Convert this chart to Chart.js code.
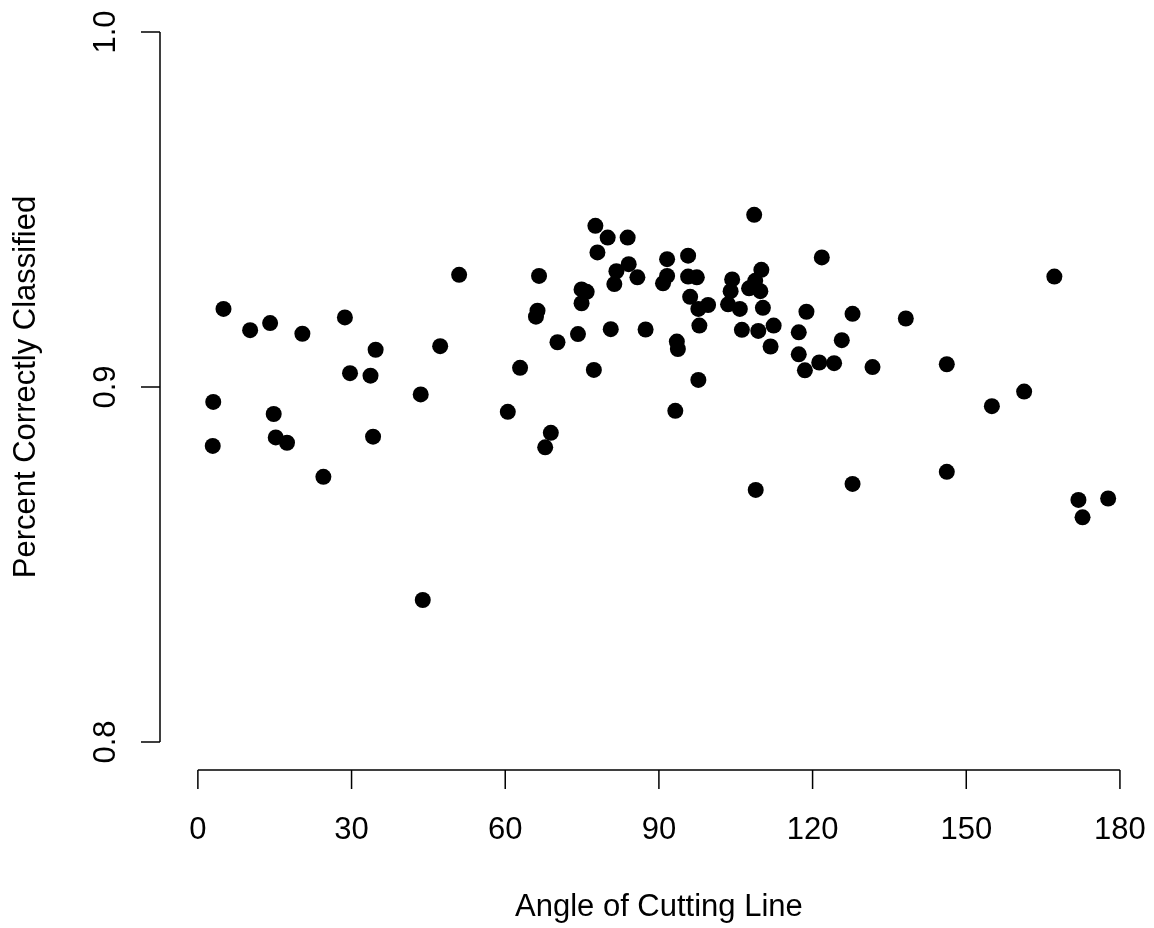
<!DOCTYPE html>
<html>
<head>
<meta charset="utf-8">
<script src="https://cdn.jsdelivr.net/npm/chart.js@4"></script>
<style>
  body { margin: 0; background: #fff; }
  canvas { display: block; }
</style>
</head>
<body>
<canvas id="chart" width="1154" height="928"></canvas>
<script>
// angle of the cutting line (x) and share correctly classified (y)
const angles = [
    3.0, 2.9, 5.0, 10.2, 14.1, 14.8, 15.2, 17.4, 20.4, 24.5, 28.7, 29.7, 33.7, 34.2, 34.7,
    43.5, 43.9, 47.3, 51.0,
    60.5, 62.9, 66.6, 66.3, 66.0, 70.2, 68.9, 67.8,
    77.6, 80.0, 83.9, 78.0, 108.6, 121.8, 91.6, 95.7, 84.1, 81.7, 85.8, 81.3, 91.6, 90.8, 95.7, 97.4,
    104.3, 110.0, 108.8, 107.6, 109.8, 104.0, 103.5, 105.8, 110.3, 99.6,
    74.9, 75.9, 74.9, 96.1, 97.7, 118.8, 127.8,
    74.2, 80.6, 87.4, 97.9, 106.2, 109.4, 112.4, 117.3, 125.7, 93.5, 93.7, 111.8, 117.3, 121.3,
    124.2, 118.5, 131.7, 77.3, 97.7, 93.2,
    108.9, 127.8, 138.2, 146.2, 146.2, 155.0, 161.3, 167.2, 171.9, 172.7, 177.7
];
const correct = [
    0.8958, 0.8834, 0.9220, 0.9160, 0.9180, 0.8924, 0.8858, 0.8843, 0.9150, 0.8747, 0.9196, 0.9039, 0.9032, 0.8860, 0.9105,
    0.8979, 0.8400, 0.9115, 0.9316,
    0.8930, 0.9054, 0.9313, 0.9215, 0.9198, 0.9126, 0.8871, 0.8830,
    0.9454, 0.9421, 0.9421, 0.9379, 0.9485, 0.9365, 0.9360, 0.9370, 0.9346, 0.9326, 0.9309, 0.9290, 0.9313, 0.9292, 0.9311, 0.9309,
    0.9303, 0.9330, 0.9299, 0.9278, 0.9270, 0.9270, 0.9233, 0.9220, 0.9223, 0.9231,
    0.9275, 0.9268, 0.9236, 0.9254, 0.9220, 0.9212, 0.9206,
    0.9149, 0.9163, 0.9162, 0.9173, 0.9161, 0.9158, 0.9173, 0.9154, 0.9132, 0.9128, 0.9107, 0.9114, 0.9092, 0.9069,
    0.9067, 0.9047, 0.9056, 0.9048, 0.9020, 0.8933,
    0.8710, 0.8727, 0.9193, 0.9064, 0.8761, 0.8946, 0.8987, 0.9311, 0.8682, 0.8633, 0.8686
];
const xTicks = [0, 30, 60, 90, 120, 150, 180];
const yTicks = [0.8, 0.9, 1.0];
const yTickLabels = ['0.8', '0.9', '1.0'];

const points = angles.map((a, i) => ({ x: a, y: correct[i] }));

const font = '31px "Liberation Sans", Arial, sans-serif';

// R style axes: lines only between first and last tick, set off from the points
const baseAxes = {
    id: 'baseAxes',
    afterDraw(chart) {
        const ctx = chart.ctx;
        const xs = chart.scales.x;
        const ys = chart.scales.y;
        const axisY = 770;
        const axisX = 160;
        const tick = 19;
        ctx.save();
        ctx.strokeStyle = '#000';
        ctx.lineWidth = 1.5;
        ctx.fillStyle = '#000';
        ctx.font = font;
        ctx.textAlign = 'center';
        ctx.textBaseline = 'alphabetic';

        // x axis
        const x0 = xs.getPixelForValue(xTicks[0]);
        const x1 = xs.getPixelForValue(xTicks[xTicks.length - 1]);
        ctx.beginPath();
        ctx.moveTo(x0, axisY);
        ctx.lineTo(x1, axisY);
        xTicks.forEach(t => {
            const px = xs.getPixelForValue(t);
            ctx.moveTo(px, axisY);
            ctx.lineTo(px, axisY + tick);
        });
        ctx.stroke();
        xTicks.forEach(t => {
            ctx.fillText(String(t), xs.getPixelForValue(t), 839);
        });
        ctx.fillText('Angle of Cutting Line', (x0 + x1) / 2, 916);

        // y axis
        const y0 = ys.getPixelForValue(yTicks[0]);
        const y1 = ys.getPixelForValue(yTicks[yTicks.length - 1]);
        ctx.beginPath();
        ctx.moveTo(axisX, y0);
        ctx.lineTo(axisX, y1);
        yTicks.forEach(t => {
            const py = ys.getPixelForValue(t);
            ctx.moveTo(axisX, py);
            ctx.lineTo(axisX - tick, py);
        });
        ctx.stroke();
        yTicks.forEach((t, i) => {
            ctx.save();
            ctx.translate(115, ys.getPixelForValue(t));
            ctx.rotate(-Math.PI / 2);
            ctx.fillText(yTickLabels[i], 0, 0);
            ctx.restore();
        });
        ctx.save();
        ctx.translate(35, ys.getPixelForValue(0.9));
        ctx.rotate(-Math.PI / 2);
        ctx.fillText('Percent Correctly Classified', 0, 0);
        ctx.restore();

        ctx.restore();
    }
};

new Chart(document.getElementById('chart').getContext('2d'), {
    type: 'scatter',
    data: {
        datasets: [{
            data: points,
            backgroundColor: '#000',
            borderWidth: 0,
            pointRadius: 8,
            pointHoverRadius: 8
        }]
    },
    options: {
        responsive: false,
        animation: false,
        layout: { autoPadding: false, padding: { left: 161, right: 0, top: 3.6, bottom: 157.6 } },
        plugins: {
            legend: { display: false },
            tooltip: { enabled: false }
        },
        scales: {
            x: { type: 'linear', display: false, min: -7.2, max: 186.65 },
            y: { type: 'linear', display: false, min: 0.792, max: 1.008 }
        }
    },
    plugins: [baseAxes]
});
</script>
</body>
</html>
